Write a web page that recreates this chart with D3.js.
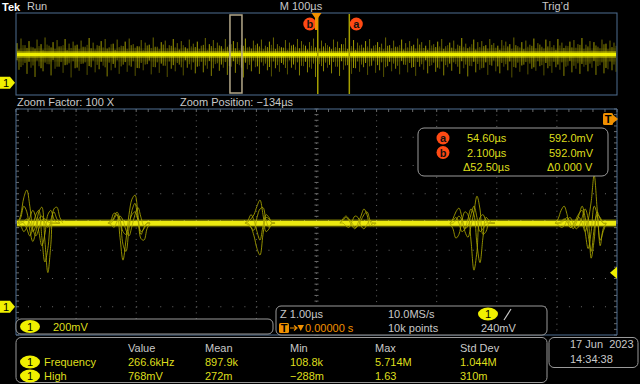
<!DOCTYPE html>
<html>
<head>
<meta charset="utf-8">
<script src="https://cdn.jsdelivr.net/npm/d3@7"></script>
<style>
body { margin: 0; background: #000; }
svg { display: block; }
text { font-family: "Liberation Sans", Arial, sans-serif; font-size: 11px; }
</style>
</head>
<body>
<svg width="640" height="384"></svg>
<script>
/**
 * Data
 */
// overview record: spike heights above / below the trace, mV
var overviewUp = [
  220,310,180,260,140,290,200,330,170,240,280,160,300,210,250,
  190,270,150,320,230,180,260,300,140,210,290,170,250,310,200,
  160,280,230,190,330,150,240,270,180,300,220,260,140,290,210,
  250,170,320,200,280,230,160,300,190,260,240,180,310,150,270,
  210,290,170,250,330,200,140,280,230,190,300,260,170,240,310,
  180,270,220,150,290,250,200,320,160,280,230,190,260,300,170,
  240,210,330,180,270,150,290,220,260,190,310,240,170,280,200,
  250,300,160,230,270,190,320,210,150,290,240,260,180,300,220,
  170,280,250,200,330,160,240,270,190,310,220,150,290,260,180,
  300,230,170,250,280,200,320,190,260,240,150,290,210,270,230
];
var overviewDown = [
  300,210,380,260,440,230,330,190,410,280,240,360,200,450,270,
  320,180,400,250,350,290,220,430,310,260,380,200,340,240,420,
  270,310,190,390,250,360,220,440,280,330,200,410,260,300,370,
  230,350,280,420,190,320,260,400,240,360,210,450,290,330,250,
  380,220,310,430,270,340,200,390,260,300,410,230,350,280,440,
  190,330,260,370,240,420,300,210,380,270,340,250,400,220,360,
  310,440,230,330,280,390,200,350,260,420,240,300,370,210,340,
  280,410,250,320,190,380,270,430,230,350,300,260,400,220,330,
  370,240,310,450,260,340,200,390,280,320,230,410,270,360,250,
  300,420,220,350,280,380,240,330,260,400,210,370,290,310,340
];

var baselineMv = 592;        // trace level, mV
var triggerLevelMv = 240;
var sampleStep = 0.05;       // µs between burst samples

// zoomed window: start time of each ringing burst (µs) and overlaid traces (mV from baseline)
var burstStart = [-4.97, -3.47, -1.19, 0.39, 2.22, 3.97];
var burstWaves = [
  [
    [0, 60, 180, 234, 120, -40, -90, -40, 20, 30, 10, 0, 0, 0, 0],
    [0, 0, 10, 30, 0, -60, -20, 80, 113, -120, -350, -150, 100, 113, 40, 0],
    [0, 10, 0, -40, -90, -30, 60, 90, -100, -275, -180, 20, 80, 30, 0],
    [0, 40, 120, 80, -50, -130, -60, 30, 50, 0, -30, 0, 0, 0, 0],
    [0, -20, -60, -30, 40, 90, 40, -60, -160, -80, 60, 90, 30, 0, 0]
  ],
  [
    [0, 20, 70, 60, -100, -262, -120, 60, 170, 198, 60, -110, -120, -40, 0],
    [0, 0, 30, 60, 20, -60, -80, 0, 60, 80, 20, -60, -40, 0, 0],
    [0, -10, -30, 10, 50, 20, -50, -90, -20, 60, 110, 40, -20, 0, 0],
    [0, 10, 40, 78, 30, -150, -200, -40, 90, 140, 20, -80, -30, 0, 0]
  ],
  [
    [0, 10, 30, 60, 120, 163, 60, -60, -40, 0, 0],
    [0, -10, -30, -90, -180, -226, -80, 40, 30, 0, 0],
    [0, 20, 60, 20, -60, -120, -20, 60, 40, 0, 0],
    [0, 0, -30, -50, 40, 100, 110, 20, -30, 0, 0]
  ],
  [
    [0, 20, 40, 20, -20, -40, 0, 50, 100, 60, -20, 0, 0],
    [0, 0, -20, -30, 10, 50, 40, -20, -40, -10, 20, 0, 0],
    [0, 30, 50, 30, 0, -30, -20, 20, 60, 80, 20, -20, 0]
  ],
  [
    [0, 30, 80, 106, 40, -60, -100, -20, 80, 191, 100, -80, -60, 0, 0, 0],
    [0, -40, -106, -80, 20, 80, 60, -120, -333, -200, 40, 60, 20, 0, 0, 0],
    [0, 20, 40, 0, -60, -40, 30, 100, 60, -150, -280, -100, 40, 20, 0, 0],
    [0, 0, 20, 50, 20, -40, -20, 60, 120, 40, -60, -40, 0, 0, 0, 0]
  ],
  [
    [0, 30, 90, 120, 60, -30, -20, 20, 40, 0, -60, 20, 150, 340, 100, -120, -60, 0],
    [0, -10, -30, -20, 20, 40, 0, -40, -20, 40, 100, 30, -248, -120, 60, 40, 0, 0],
    [0, 0, 10, 30, 10, -30, -10, 30, 70, 90, -60, -180, -60, 120, 60, -160, -40, 0],
    [0, 0, 0, 20, 40, 0, -40, 0, 60, 120, 40, -80, -200, -40, 80, 30, 0, 0]
  ]
];

var cursorNames = ['a', 'b'];
var cursorTimes = [54.60, 2.100];     // µs
var zoomPosition = -134;              // µs
var zoomSpan = 10;                    // µs shown in the zoom window

var cursorRows = [
  ['a', '54.60µs', '592.0mV'],
  ['b', '2.100µs', '592.0mV'],
  ['', 'Δ52.50µs', 'Δ0.000 V']
];
var measHeaders = ['Value', 'Mean', 'Min', 'Max', 'Std Dev'];
var measNames = ['Frequency', 'High'];
var measValues = [
  ['266.6kHz', '897.9k', '108.8k', '5.714M', '1.044M'],
  ['768mV', '272m', '−288m', '1.63', '310m']
];

/**
 * Layout
 */
var svg = d3.select('svg');
var YELLOW = '#f0f000', TXT = '#c8c8c8', YTXT = '#dede1c', ORANGE = '#f09000',
    RED = '#ff4a14', FRAME = '#4f6f92', BOX = '#9a9a9a';

svg.append('rect').attr('width', 640).attr('height', 384).attr('fill', '#000');

var over = {l: 16, r: 617, t: 13, b: 95};
var main = {l: 16, r: 617, t: 109, b: 335};

var xOver = d3.scaleLinear().domain([-500, 500]).range([over.l, over.r]);
var yOver = d3.scaleLinear().domain([-200, 1400]).range([over.b, over.t]);
var xMain = d3.scaleLinear().domain([-5, 5]).range([main.l, main.r]);
var yMain = d3.scaleLinear().domain([-200, 1400]).range([main.b, main.t]);

function txt(x, y, s, fill, anchor) {
  return svg.append('text').attr('x', x).attr('y', y).attr('fill', fill || TXT)
    .attr('text-anchor', anchor || 'start').text(s);
}
function chanBadge(cx, cy) {
  svg.append('ellipse').attr('cx', cx).attr('cy', cy).attr('rx', 10).attr('ry', 6.5).attr('fill', YELLOW);
  txt(cx, cy + 4, '1', '#000', 'middle');
}
function cursorBadge(cx, cy, s) {
  svg.append('circle').attr('cx', cx).attr('cy', cy).attr('r', 6.5).attr('fill', RED);
  txt(cx, cy + 4, s, '#111', 'middle').attr('font-weight', 'bold');
}
function groundMarker(cy) {
  svg.append('path').attr('d', 'M0,' + (cy - 6) + 'H10L15,' + cy + 'L10,' + (cy + 6) + 'H0Z').attr('fill', YELLOW);
  txt(6, cy + 4, '1', '#000', 'middle');
}

// header
txt(2, 11, 'Tek', '#fff').attr('font-family', '"DejaVu Serif", serif').attr('font-weight', 'bold').attr('font-size', 13);
txt(27, 10, 'Run');
txt(301, 10, 'M 100µs', TXT, 'middle');
txt(542, 10, 'Trig\u2019d');

/**
 * Overview record
 */
var ovG = svg.append('g');
var nOv = overviewUp.length;
function ovX(i) { return xOver(-500 + (i + 0.25) * 1000 / nOv); }
ovG.append('rect').attr('x', over.l + 1).attr('width', over.r - over.l - 2)
  .attr('y', yOver(baselineMv + 120)).attr('height', yOver(baselineMv - 140) - yOver(baselineMv + 120))
  .attr('fill', '#5e5c00').attr('opacity', 0.25);
ovG.selectAll('.up').data(overviewUp).enter().append('line')
  .attr('class', 'up')
  .attr('x1', function(d, i) { return ovX(i); })
  .attr('x2', function(d, i) { return ovX(i); })
  .attr('y1', function(d) { return yOver(baselineMv + d); })
  .attr('y2', function(d, i) { return yOver(baselineMv - overviewDown[(i + 7) % nOv] * 0.6); })
  .attr('stroke', '#b4b000').attr('stroke-width', 1)
  .attr('opacity', function(d, i) { return i % 3 === 0 ? 0.9 : 0.6; });
ovG.selectAll('.down').data(overviewDown).enter().append('line')
  .attr('class', 'down')
  .attr('x1', function(d, i) { return ovX(i) + 2; })
  .attr('x2', function(d, i) { return ovX(i) + 2; })
  .attr('y1', function(d, i) { return yOver(baselineMv + overviewUp[(i + 11) % nOv] * 0.6); })
  .attr('y2', function(d) { return yOver(baselineMv - d); })
  .attr('stroke', '#a8a400').attr('stroke-width', 1)
  .attr('opacity', function(d, i) { return i % 2 === 0 ? 0.8 : 0.5; });
ovG.append('line').attr('x1', over.l + 1).attr('x2', over.r - 1)
  .attr('y1', yOver(baselineMv)).attr('y2', yOver(baselineMv))
  .attr('stroke', '#d8d400').attr('stroke-width', 7).attr('opacity', 0.45);
ovG.append('line').attr('x1', over.l + 1).attr('x2', over.r - 1)
  .attr('y1', yOver(baselineMv)).attr('y2', yOver(baselineMv))
  .attr('stroke', YELLOW).attr('stroke-width', 3.5);

svg.append('rect').attr('x', over.l).attr('y', over.t).attr('width', over.r - over.l).attr('height', over.b - over.t)
  .attr('fill', 'none').attr('stroke', FRAME);

// zoom box
var zx0 = xOver(zoomPosition - zoomSpan / 2), zx1 = xOver(zoomPosition + zoomSpan / 2);
svg.append('rect').attr('x', zx0 - 3).attr('y', over.t + 2).attr('width', zx1 - zx0 + 6).attr('height', over.b - over.t - 4)
  .attr('fill', 'none').attr('stroke', '#b4a88a').attr('stroke-width', 1.5);

// cursors a / b
cursorTimes.forEach(function(t, i) {
  svg.append('line').attr('x1', xOver(t)).attr('x2', xOver(t)).attr('y1', over.t + 1).attr('y2', over.b - 1)
    .attr('stroke', '#a6a000').attr('stroke-width', 1.5);
});
cursorBadge(xOver(cursorTimes[0]) + 7, 24, cursorNames[0]);
cursorBadge(xOver(cursorTimes[1]) - 8, 24, cursorNames[1]);

// trigger point marker on the record
var tx = xOver(0);
svg.append('path').attr('d', 'M' + (tx - 5) + ',13H' + (tx + 5) + 'L' + (tx + 1.5) + ',18V30H' + (tx - 1.5) + 'V18Z')
  .attr('fill', ORANGE);

groundMarker(yOver(0) - 2);

txt(17, 106, 'Zoom Factor: 100 X');
txt(180, 106, 'Zoom Position: −134µs');

/**
 * Zoomed graticule
 */
var gridG = svg.append('g');
var divX = (main.r - main.l) / 10, divY = (main.b - main.t) / 8;
d3.range(1, 10).forEach(function(i) {
  var x = main.l + i * divX;
  gridG.append('line').attr('x1', x).attr('x2', x).attr('y1', main.t).attr('y2', main.b)
    .attr('stroke', '#686868').attr('stroke-dasharray', '1,' + (divY / 5 - 1));
});
d3.range(1, 8).forEach(function(j) {
  var y = main.t + j * divY;
  gridG.append('line').attr('x1', main.l).attr('x2', main.r).attr('y1', y).attr('y2', y)
    .attr('stroke', '#686868').attr('stroke-dasharray', '1,' + (divX / 5 - 1));
});
// minor ticks on the frame and centre lines
var cx = main.l + 5 * divX, cy = main.t + 4 * divY;
d3.range(0, 51).forEach(function(k) {
  var x = main.l + k * divX / 5;
  gridG.append('line').attr('x1', x).attr('x2', x).attr('y1', main.t).attr('y2', main.t + 3).attr('stroke', '#6a6a6a');
  gridG.append('line').attr('x1', x).attr('x2', x).attr('y1', cy - 2).attr('y2', cy + 2).attr('stroke', '#6a6a6a');
});
d3.range(0, 41).forEach(function(k) {
  var y = main.t + k * divY / 5;
  gridG.append('line').attr('x1', main.l).attr('x2', main.l + 3).attr('y1', y).attr('y2', y).attr('stroke', '#6a6a6a');
  gridG.append('line').attr('x1', main.r - 3).attr('x2', main.r).attr('y1', y).attr('y2', y).attr('stroke', '#6a6a6a');
  gridG.append('line').attr('x1', cx - 2).attr('x2', cx + 2).attr('y1', y).attr('y2', y).attr('stroke', '#6a6a6a');
});

svg.append('path').attr('d', 'M' + main.l + ',' + main.b + 'V' + main.t + 'H' + main.r + 'V' + main.b + 'H' + main.l)
  .attr('fill', 'none').attr('stroke', FRAME);

/**
 * Zoomed trace
 */
var traceG = svg.append('g');
traceG.append('line').attr('x1', main.l + 1).attr('x2', main.r - 1)
  .attr('y1', yMain(baselineMv)).attr('y2', yMain(baselineMv))
  .attr('stroke', '#c8c400').attr('stroke-width', 8).attr('opacity', 0.4);
traceG.append('line').attr('x1', main.l + 1).attr('x2', main.r - 1)
  .attr('y1', yMain(baselineMv)).attr('y2', yMain(baselineMv))
  .attr('stroke', '#ecea10').attr('stroke-width', 5);

var burstLine = d3.line().curve(d3.curveCatmullRom.alpha(0.5));
burstWaves.forEach(function(waves, k) {
  waves.forEach(function(w) {
    traceG.append('path')
      .attr('d', burstLine(w.map(function(v, j) {
        return [xMain(burstStart[k] + j * sampleStep), yMain(baselineMv + v)];
      })))
      .attr('fill', 'none').attr('stroke', '#aaa600').attr('stroke-width', 1).attr('opacity', 0.85);
  });
});

// trigger level, off-screen trigger, ground
var ty = yMain(triggerLevelMv);
svg.append('path').attr('d', 'M' + (main.r - 7) + ',' + ty + 'L' + main.r + ',' + (ty - 6) + 'V' + (ty + 6) + 'Z').attr('fill', YELLOW);
svg.append('rect').attr('x', 603).attr('y', 113).attr('width', 10).attr('height', 12).attr('rx', 1.5).attr('fill', ORANGE);
svg.append('path').attr('d', 'M612,114L618,119L612,124Z').attr('fill', ORANGE);
txt(608, 123, 'T', '#000', 'middle').attr('font-weight', 'bold');
groundMarker(yMain(0));

/**
 * Cursor readout
 */
svg.append('rect').attr('x', 418).attr('y', 128).attr('width', 190).attr('height', 48).attr('rx', 6)
  .attr('fill', '#000').attr('stroke', BOX);
cursorRows.forEach(function(r, i) {
  var y = 142 + i * 14.5;
  if (r[0]) cursorBadge(443, y - 4, r[0]);
  txt(467, y, r[1], YTXT).attr('dx', r[0] ? 0 : -4);
  txt(549, y, r[2], YTXT).attr('dx', r[0] ? 0 : -2);
});

/**
 * Bottom info boxes
 */
svg.append('rect').attr('x', 16).attr('y', 319).attr('width', 257).attr('height', 15).attr('rx', 5)
  .attr('fill', '#000').attr('stroke', BOX);
chanBadge(30, 326.5);
txt(53, 331, '200mV', YTXT);

svg.append('rect').attr('x', 276).attr('y', 306).attr('width', 271).attr('height', 29).attr('rx', 5)
  .attr('fill', '#000').attr('stroke', BOX);
txt(280, 318, 'Z 1.00µs');
svg.append('rect').attr('x', 279).attr('y', 323).attr('width', 10).attr('height', 10).attr('rx', 1.5).attr('fill', ORANGE);
txt(284, 332, 'T', '#000', 'middle').attr('font-weight', 'bold').attr('font-size', 10);
// arrow and down-triangle of the trigger-position readout
svg.append('path').attr('d', 'M290,328H296M294,325.5L297,328L294,330.5').attr('fill', 'none').attr('stroke', ORANGE).attr('stroke-width', 1.2);
svg.append('path').attr('d', 'M297.5,325H304L300.75,331Z').attr('fill', ORANGE);
txt(305, 332, '0.00000 s', ORANGE);
txt(388, 318, '10.0MS/s');
txt(388, 332, '10k points');
chanBadge(488, 314);
svg.append('path').attr('d', 'M504,320L511,309').attr('stroke', TXT).attr('stroke-width', 1.2);
txt(481, 332, '240mV');

svg.append('rect').attr('x', 16).attr('y', 337.5).attr('width', 531).attr('height', 45).attr('rx', 5)
  .attr('fill', '#000').attr('stroke', BOX);
var colX = [128, 205, 290, 375, 460];
measHeaders.forEach(function(h, i) { txt(colX[i], 352, h); });
measNames.forEach(function(n, r) {
  var y = 366 + r * 14;
  chanBadge(30, y - 4);
  txt(44, y, n, YTXT);
  measValues[r].forEach(function(v, i) { txt(colX[i], y, v, YTXT); });
});

svg.append('rect').attr('x', 549).attr('y', 337.5).attr('width', 89).attr('height', 30).attr('rx', 5)
  .attr('fill', '#000').attr('stroke', BOX);
txt(570, 348, '17 Jun  2023').style('white-space', 'pre');
txt(570, 363, '14:34:38');
</script>
</body>
</html>
